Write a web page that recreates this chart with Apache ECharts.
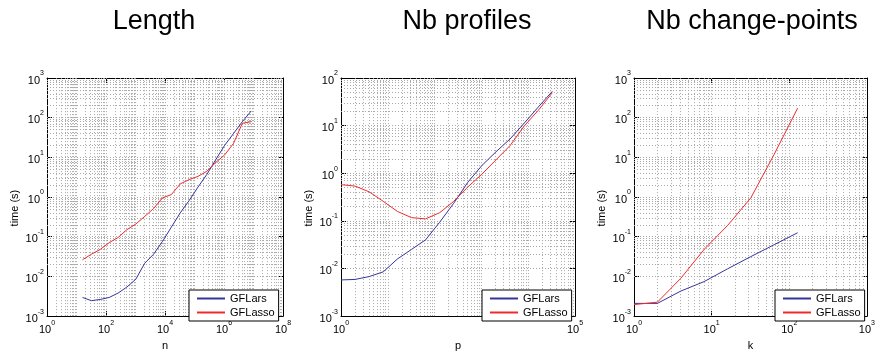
<!DOCTYPE html>
<html>
<head>
<meta charset="utf-8">
<script src="https://cdn.jsdelivr.net/npm/echarts@6/dist/echarts.min.js"></script>
<style>
html, body { margin: 0; padding: 0; background: #fff; }
#chart { width: 878px; height: 356px; }
</style>
</head>
<body>
<div id="chart"></div>
<script>
// panel titles and axis names
const titles = ['Length', 'Nb profiles', 'Nb change-points']
const xNames = ['n', 'p', 'k']
const seriesNames = ['GFLars', 'GFLasso']

// Length : time vs n
const lengthX = [16, 32, 64, 128, 256, 512, 1024, 2048, 4096, 8192, 16384, 32768, 65536, 131072, 262144, 524288, 1048576, 2097152, 4194304, 8388608]
const lengthLars = [0.00295, 0.00245, 0.00263, 0.00295, 0.0038, 0.0054, 0.0085, 0.0214, 0.0363, 0.0759, 0.174, 0.398, 0.813, 1.78, 3.72, 8.71, 20.0, 39.8, 79.4, 148]
const lengthLasso = [0.0263, 0.0363, 0.0479, 0.0708, 0.0955, 0.151, 0.209, 0.324, 0.513, 0.955, 1.15, 2.14, 2.75, 3.31, 4.47, 7.41, 11.5, 22.4, 72.4, 79.4]

// Nb profiles : time vs p
const profilesX = [1, 2, 4, 8, 16, 32, 64, 128, 256, 512, 1024, 2048, 4096, 8192, 16384, 32768]
const profilesLars = [0.00575, 0.00589, 0.00676, 0.00851, 0.0158, 0.0251, 0.0398, 0.0933, 0.234, 0.646, 1.45, 2.82, 5.25, 11.2, 24.5, 52.5]
const profilesLasso = [0.575, 0.537, 0.407, 0.257, 0.158, 0.117, 0.110, 0.148, 0.257, 0.513, 0.955, 1.91, 3.80, 9.77, 20.9, 49.0]

// Nb change-points : time vs k
const changeX = [1, 2, 4, 8, 16, 32, 64, 128]
const changeLars = [0.00209, 0.00209, 0.00427, 0.00741, 0.0155, 0.0316, 0.0631, 0.126]
const changeLasso = [0.00195, 0.00224, 0.00891, 0.0479, 0.191, 0.955, 12.0, 174]

const panels = [
  { x: lengthX, ys: [lengthLars, lengthLasso], xMin: 1, xMax: 1e8, xStep: 2, yMin: 1e-3, yMax: 1e3 },
  { x: profilesX, ys: [profilesLars, profilesLasso], xMin: 1, xMax: 1e5, xStep: 5, yMin: 1e-3, yMax: 1e2 },
  { x: changeX, ys: [changeLars, changeLasso], xMin: 1, xMax: 1e3, xStep: 1, yMin: 1e-3, yMax: 1e3 }
]

const boxes = [
  { left: 47, top: 78, width: 236, height: 248, title: 154, legend: 189 },
  { left: 341, top: 78, width: 234, height: 248, title: 467, legend: 482 },
  { left: 634, top: 78, width: 233, height: 248, title: 752, legend: 775 }
]
const colors = ['#35359b', '#f02a2a']
const font = 'Liberation Sans, Arial, Helvetica, sans-serif'

function powLabel (v) {
  const e = Math.round(Math.log10(v))
  return '{b|10}{s|' + e + '}'
}
const rich = {
  b: { fontSize: 11, lineHeight: 16, verticalAlign: 'bottom', color: '#000', fontFamily: font },
  s: { fontSize: 7, lineHeight: 6, verticalAlign: 'top', color: '#000', fontFamily: font }
}

// dotted log grid 1..9 x 10^k inside the box
function gridValues (min, max) {
  const out = []
  for (let e = Math.round(Math.log10(min)); e < Math.round(Math.log10(max)); e++) {
    for (let m = 1; m <= 9; m++) {
      const v = m * Math.pow(10, e)
      if (v > min * 1.0001 && v < max * 0.9999) out.push(v)
    }
  }
  return out
}

const option = {
  animation: false,
  backgroundColor: '#fff',
  title: [],
  legend: [],
  grid: [],
  xAxis: [],
  yAxis: [],
  series: []
}

panels.forEach(function (p, i) {
  const b = boxes[i]
  option.title.push({
    text: titles[i],
    left: b.title,
    top: 8,
    padding: 0,
    textAlign: 'center',
    textStyle: { fontSize: 27, fontWeight: 'normal', color: '#000', fontFamily: font }
  })
  option.grid.push({ left: b.left, top: b.top, width: b.width, height: b.height, containLabel: false })
  const tick = { show: true, inside: true, length: 5, lineStyle: { color: '#000', width: 1 } }
  const line = { show: true, lineStyle: { color: '#000', width: 1 } }
  option.xAxis.push({
    type: 'log', gridIndex: i, position: 'bottom', min: p.xMin, max: p.xMax, interval: p.xStep,
    name: xNames[i], nameLocation: 'middle', nameGap: 21,
    nameTextStyle: { fontSize: 11, color: '#000', fontFamily: font },
    axisLine: line, axisTick: tick, splitLine: { show: false },
    axisLabel: { margin: 3, formatter: powLabel, rich: rich }
  }, {
    type: 'log', gridIndex: i, position: 'top', min: p.xMin, max: p.xMax, interval: p.xStep,
    axisLine: line, axisTick: tick, splitLine: { show: false }, axisLabel: { show: false }
  })
  option.yAxis.push({
    type: 'log', gridIndex: i, position: 'left', min: p.yMin, max: p.yMax, interval: 1,
    name: 'time (s)', nameLocation: 'middle', nameGap: 27,
    nameTextStyle: { fontSize: 11, color: '#000', fontFamily: font, padding: [0, 22, 0, 0] },
    axisLine: line, axisTick: tick, splitLine: { show: false },
    axisLabel: { margin: 3, formatter: powLabel, rich: rich }
  }, {
    type: 'log', gridIndex: i, position: 'right', min: p.yMin, max: p.yMax, interval: 1,
    axisLine: line, axisTick: tick, splitLine: { show: false }, axisLabel: { show: false }
  })
  const gridLines = gridValues(p.xMin, p.xMax).map(function (v) { return { xAxis: v } })
    .concat(gridValues(p.yMin, p.yMax).map(function (v) { return { yAxis: v } }))
  seriesNames.forEach(function (name, j) {
    const s = {
      type: 'line',
      name: name,
      xAxisIndex: i * 2,
      yAxisIndex: i * 2,
      data: p.x.map(function (x, k) { return [x, p.ys[j][k]] }),
      showSymbol: false,
      symbol: 'none',
      z: 3,
      lineStyle: { color: colors[j], width: 1 },
      itemStyle: { color: colors[j] }
    }
    if (j === 0) {
      s.markLine = {
        silent: true,
        z: 1,
        symbol: 'none',
        label: { show: false },
        lineStyle: { color: '#a8a8a8', width: 1, type: [1, 2] },
        emphasis: { disabled: true },
        data: gridLines
      }
    }
    option.series.push(s)
  })
  option.legend.push({
    left: b.legend,
    top: 290,
    orient: 'vertical',
    backgroundColor: '#fff',
    borderColor: '#000',
    borderWidth: 1,
    borderRadius: 0,
    padding: [3, 4, 3, 8],
    itemGap: 3,
    itemWidth: 28,
    itemHeight: 2,
    icon: 'rect',
    selectedMode: false,
    data: seriesNames,
    textStyle: { fontSize: 11, color: '#000', fontFamily: font }
  })
})

const chart = echarts.init(document.getElementById('chart'))
chart.setOption(option)
</script>
</body>
</html>
